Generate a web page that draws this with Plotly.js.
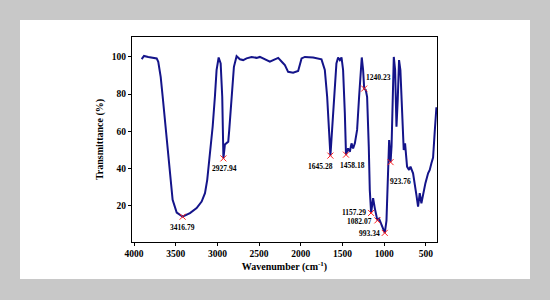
<!DOCTYPE html>
<html>
<head>
<meta charset="utf-8">
<script src="https://cdn.plot.ly/plotly-3.0.1.min.js"></script>
<style>
    body { margin: 0; background: #c8c8c8; }
    #ftir { position: absolute; left: 20px; top: 20px; width: 510px; height: 259px; }
</style>
</head>
<body>
<div id="ftir"></div>
<script>
// FTIR spectrum
var wavenumber = [
    3908, 3880, 3829, 3780, 3728, 3709, 3680, 3656, 3629, 3601,
    3569, 3537, 3488, 3417, 3329, 3249, 3189, 3149, 3122, 3090,
    3057, 3030, 3010, 2985, 2961, 2942, 2928, 2910, 2890, 2870,
    2858, 2830, 2802, 2770, 2730, 2691, 2650, 2590, 2530, 2491,
    2451, 2400, 2371, 2331, 2271, 2220, 2191, 2152, 2092, 2032,
    1991, 1951, 1852, 1752, 1712, 1684, 1660, 1645, 1625, 1601,
    1573, 1553, 1532, 1512, 1493, 1472, 1458, 1433, 1412, 1392,
    1373, 1352, 1325, 1301, 1281, 1269, 1253, 1240, 1221, 1205,
    1185, 1173, 1157, 1133, 1113, 1093, 1082, 1062, 1033, 1015,
    993, 973, 961, 953, 941, 930, 924, 912, 900, 885,
    869, 853, 838, 822, 806, 782, 766, 750, 734, 726,
    702, 685, 654, 634, 614, 594, 574, 554, 534, 506,
    474, 454, 434, 414, 394, 374
];
var transmittance = [
    98.8, 100.5, 100, 99.5, 99.2, 97.4, 89.3, 78.6, 66, 51.8,
    34, 23.2, 16.4, 14.2, 16.1, 18.8, 22.3, 26.8, 34, 46.4,
    62.5, 78.6, 92.9, 99.7, 96.5, 78.6, 45.5, 53, 53.6, 54.5,
    60.8, 78.6, 94.7, 100.4, 98.7, 98.3, 99.2, 100, 99.5, 100,
    99.2, 98, 97.4, 98.3, 99.5, 97, 95.6, 92, 91.5, 92.5,
    99.2, 100, 99.7, 98.7, 93, 78.6, 62.5, 47, 60.8, 78.6,
    96.5, 99.7, 98.3, 99.7, 93, 69.7, 47.5, 50.9, 49.1, 53.6,
    50.9, 53.6, 60.8, 78.6, 94.7, 99.7, 93, 83, 82.2, 78.6,
    51.8, 28.6, 16.2, 24.1, 18.8, 15.2, 12.2, 13.2, 9.5, 7.5,
    5.5, 12, 30, 50, 55.4, 48, 43.5, 52, 82.2, 100,
    92.9, 62.5, 76.8, 98.3, 92.9, 67.9, 50, 53.6, 46, 41.1,
    39.3, 41.1, 37.5, 30.3, 25.9, 19.6, 26.8, 21.4, 26.8, 32.2,
    37.5, 39.3, 42.9, 46, 60, 73
];

// marked peaks
var peakWn = [3416.79, 2927.94, 1645.28, 1458.18, 1240.23, 1157.29, 1082.07, 993.34, 923.76];
var peakTr = [14.2, 45.5, 47, 47.5, 83, 16.2, 12.2, 5.5, 43.5];
var peakText = ["3416.79", "2927.94", "1645.28", "1458.18", "1240.23", "1157.29", "1082.07", "993.34", "923.76"];

// where each label sits relative to its marker
var labelPlace = [
    { xa: "center", ya: "top", dx: 0, dy: -4 },
    { xa: "center", ya: "top", dx: 1, dy: -4 },
    { xa: "center", ya: "top", dx: -10, dy: -4 },
    { xa: "center", ya: "top", dx: 7, dy: -4 },
    { xa: "left", ya: "middle", dx: 0, dy: 11 },
    { xa: "right", ya: "middle", dx: -3, dy: 0 },
    { xa: "right", ya: "middle", dx: -3, dy: -1 },
    { xa: "right", ya: "middle", dx: -3, dy: -1 },
    { xa: "center", ya: "middle", dx: 10, dy: -19 },
];

var serif = "Liberation Serif, Times New Roman, serif";

var spectrum = {
    x: wavenumber,
    y: transmittance,
    mode: "lines",
    type: "scatter",
    line: { color: "#14148a", width: 2 },
    hoverinfo: "skip",
};

var peaks = {
    x: peakWn,
    y: peakTr,
    mode: "markers",
    type: "scatter",
    marker: { symbol: "x-thin-open", size: 6, color: "#ff2020", line: { width: 1, color: "#ff2020" } },
};

var annotations = peakText.map((t, i) => ({
    x: peakWn[i],
    y: peakTr[i],
    text: "<b>" + t + "</b>",
    showarrow: false,
    xanchor: labelPlace[i].xa,
    yanchor: labelPlace[i].ya,
    xshift: labelPlace[i].dx,
    yshift: labelPlace[i].dy,
    font: { family: serif, size: 7.5, color: "#000" },
}));

var layout = {
    width: 510,
    height: 259,
    margin: { l: 112, r: 93, t: 17, b: 37 },
    paper_bgcolor: "#fff",
    plot_bgcolor: "#fff",
    showlegend: false,
    font: { family: serif, color: "#000" },
    xaxis: {
        range: [4024, 367],
        tickvals: [4000, 3500, 3000, 2500, 2000, 1500, 1000, 500],
        ticktext: ["<b>4000</b>", "<b>3500</b>", "<b>3000</b>", "<b>2500</b>", "<b>2000</b>", "<b>1500</b>", "<b>1000</b>", "<b>500</b>"],
        tickfont: { family: serif, size: 9.5 },
        ticks: "outside",
        ticklen: 3,
        tickcolor: "#000",
        showgrid: false,
        zeroline: false,
        showline: true,
        linecolor: "#000",
        linewidth: 1,
        mirror: true,
        title: { text: "<b>Wavenumber (cm<sup>-1</sup>)</b>", font: { family: serif, size: 10 }, standoff: 4 },
    },
    yaxis: {
        range: [0.6, 110.7],
        tickvals: [20, 40, 60, 80, 100],
        ticktext: ["<b>20</b>", "<b>40</b>", "<b>60</b>", "<b>80</b>", "<b>100</b>"],
        tickfont: { family: serif, size: 9.5 },
        ticks: "outside",
        ticklen: 3,
        tickcolor: "#000",
        showgrid: false,
        zeroline: false,
        showline: true,
        linecolor: "#000",
        linewidth: 1,
        mirror: true,
        title: { text: "<b>Transmittance (%)</b>", font: { family: serif, size: 10 }, standoff: 6 },
    },
    annotations: annotations,
};

Plotly.newPlot("ftir", [spectrum, peaks], layout, { displayModeBar: false, staticPlot: true });
</script>
</body>
</html>
